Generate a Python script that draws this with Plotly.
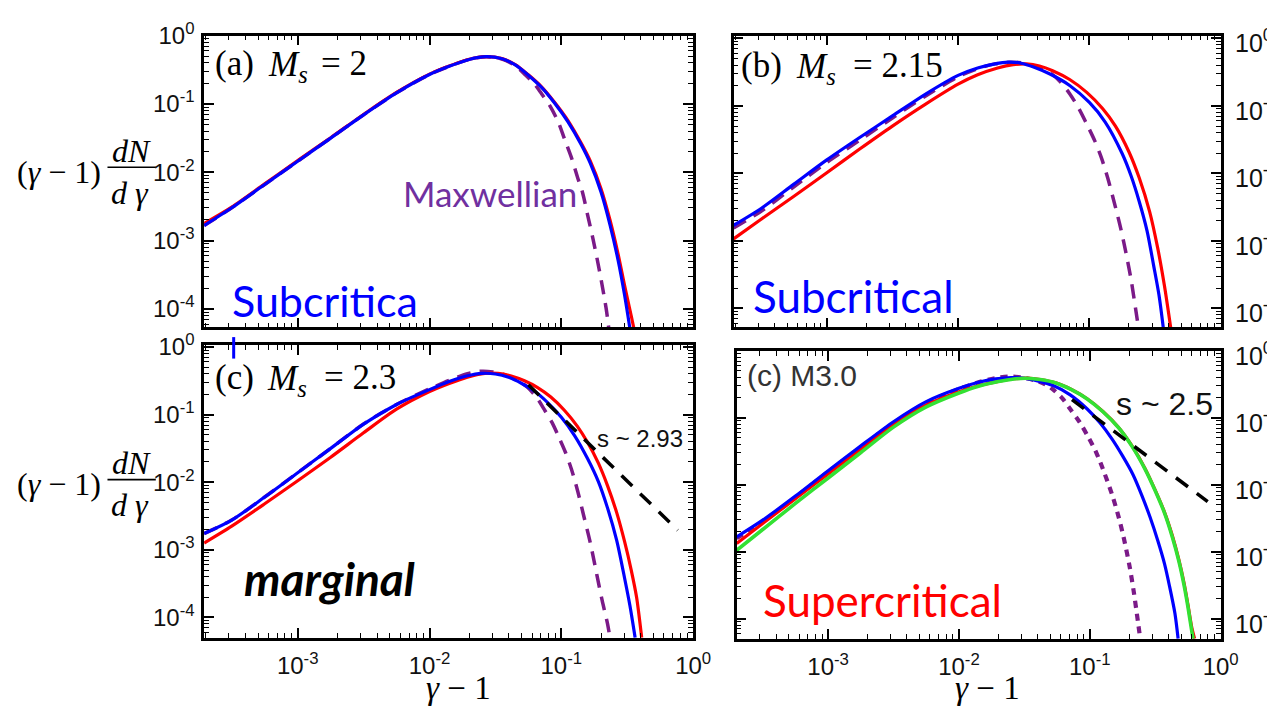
import plotly.graph_objects as go

W, H = 1285, 707

# ---------------- data ----------------
# panel (a) Ms = 2
xa_blue = [1.95e-4, 3.16e-4, 5.62e-4, 1.0e-3, 1.78e-3, 3.16e-3, 5.62e-3, 1.0e-2, 1.41e-2, 2.0e-2,
           2.69e-2, 3.55e-2, 4.47e-2, 5.62e-2, 7.08e-2, 8.91e-2, 0.112, 0.141, 0.166, 0.200,
           0.234, 0.269, 0.302, 0.331]
ya_blue = [1.66e-3, 3.02e-3, 6.61e-3, 1.45e-2, 3.16e-2, 6.92e-2, 0.145, 0.269, 0.355, 0.447,
           0.490, 0.457, 0.372, 0.263, 0.174, 0.102, 0.0550, 0.0257, 0.0135, 5.13e-3,
           1.70e-3, 5.25e-4, 1.58e-4, 5.2e-5]
xa_red = [1.95e-4, 3.16e-4, 5.62e-4, 1.0e-3, 1.78e-3, 3.16e-3, 5.62e-3, 1.0e-2, 1.41e-2, 2.0e-2,
          2.69e-2, 3.55e-2, 4.47e-2, 5.62e-2, 7.08e-2, 8.91e-2, 0.112, 0.141, 0.166, 0.200,
          0.234, 0.269, 0.302, 0.339, 0.355]
ya_red = [1.78e-3, 3.09e-3, 6.76e-3, 1.48e-2, 3.20e-2, 7.0e-2, 0.147, 0.272, 0.358, 0.450,
          0.492, 0.460, 0.376, 0.266, 0.178, 0.105, 0.0575, 0.0269, 0.0145, 5.75e-3,
          2.0e-3, 6.46e-4, 2.19e-4, 7.94e-5, 5.2e-5]
xa_max = [1.95e-4, 3.16e-4, 5.62e-4, 1.0e-3, 1.78e-3, 3.16e-3, 5.62e-3, 1.0e-2, 1.41e-2, 2.0e-2,
          2.69e-2, 3.55e-2, 4.47e-2, 5.37e-2, 6.31e-2, 7.08e-2, 8.32e-2, 9.55e-2, 0.106, 0.120,
          0.133, 0.145, 0.158, 0.174, 0.195, 0.219, 0.229]
ya_max = [1.66e-3, 3.02e-3, 6.61e-3, 1.45e-2, 3.16e-2, 6.92e-2, 0.145, 0.269, 0.355, 0.447,
          0.490, 0.452, 0.363, 0.263, 0.191, 0.141, 0.0891, 0.0525, 0.0302, 0.0158,
          8.32e-3, 5.01e-3, 2.40e-3, 1.05e-3, 3.55e-4, 1.0e-4, 5.2e-5]

# panel (b) Ms = 2.15
xb_blue = [1.95e-4, 3.16e-4, 5.62e-4, 1.0e-3, 1.78e-3, 3.16e-3, 5.62e-3, 1.0e-2, 1.41e-2, 1.91e-2,
           2.40e-2, 3.02e-2, 3.80e-2, 5.01e-2, 7.08e-2, 0.100, 0.132, 0.178, 0.209, 0.240,
           0.275, 0.309, 0.339, 0.366]
yb_blue = [1.70e-3, 3.02e-3, 6.92e-3, 1.58e-2, 3.39e-2, 7.08e-2, 0.148, 0.282, 0.363, 0.417,
           0.442, 0.427, 0.372, 0.295, 0.200, 0.112, 0.0575, 0.0195, 8.91e-3, 3.80e-3,
           1.41e-3, 4.27e-4, 1.58e-4, 5.1e-5]
xb_red = [1.95e-4, 3.16e-4, 5.62e-4, 1.0e-3, 1.78e-3, 3.16e-3, 5.62e-3, 1.0e-2, 1.41e-2, 2.0e-2,
          2.63e-2, 3.31e-2, 4.17e-2, 5.25e-2, 7.08e-2, 9.55e-2, 0.126, 0.158, 0.200, 0.240,
          0.288, 0.331, 0.372, 0.417]
yb_red = [1.07e-3, 2.09e-3, 4.57e-3, 1.02e-2, 2.29e-2, 5.01e-2, 0.105, 0.209, 0.288, 0.363,
          0.407, 0.417, 0.389, 0.331, 0.245, 0.158, 0.0912, 0.0501, 0.0209, 8.51e-3,
          2.69e-3, 7.94e-4, 2.24e-4, 5.1e-5]
xb_max = [1.95e-4, 3.16e-4, 5.62e-4, 1.0e-3, 1.78e-3, 3.16e-3, 5.62e-3, 1.0e-2, 1.41e-2, 1.91e-2,
          2.51e-2, 3.16e-2, 3.98e-2, 5.01e-2, 6.03e-2, 7.08e-2, 8.32e-2, 9.55e-2, 0.110, 0.123,
          0.138, 0.158, 0.174, 0.191, 0.209, 0.226, 0.237]
yb_max = [1.55e-3, 2.75e-3, 6.31e-3, 1.45e-2, 3.09e-2, 6.61e-2, 0.138, 0.269, 0.355, 0.417,
          0.442, 0.427, 0.372, 0.309, 0.224, 0.151, 0.0912, 0.0537, 0.0302, 0.0174,
          8.51e-3, 3.16e-3, 1.48e-3, 6.31e-4, 2.51e-4, 9.3e-5, 5.1e-5]

# panel (c) Ms = 2.3
xc_blue = [1.95e-4, 3.16e-4, 5.62e-4, 1.0e-3, 1.78e-3, 3.16e-3, 5.62e-3, 1.0e-2, 1.41e-2, 1.91e-2,
           2.51e-2, 3.16e-2, 3.98e-2, 5.01e-2, 6.31e-2, 7.94e-2, 0.100, 0.126, 0.158, 0.191,
           0.224, 0.263, 0.302, 0.331, 0.363]
yc_blue = [1.74e-3, 2.75e-3, 6.03e-3, 1.38e-2, 3.16e-2, 7.24e-2, 0.141, 0.234, 0.309, 0.372,
           0.407, 0.398, 0.355, 0.288, 0.219, 0.148, 0.0912, 0.0490, 0.0224, 1.02e-2,
           4.17e-3, 1.38e-3, 3.80e-4, 1.51e-4, 5.0e-5]
xc_red = [1.95e-4, 3.16e-4, 5.62e-4, 1.0e-3, 1.78e-3, 3.16e-3, 5.62e-3, 1.0e-2, 1.41e-2, 1.91e-2,
          2.63e-2, 3.31e-2, 4.17e-2, 5.25e-2, 6.61e-2, 8.32e-2, 0.105, 0.132, 0.158, 0.191,
          0.224, 0.263, 0.302, 0.339, 0.372, 0.407]
yc_red = [1.26e-3, 2.24e-3, 4.79e-3, 1.05e-2, 2.34e-2, 5.37e-2, 0.120, 0.219, 0.288, 0.355,
          0.407, 0.407, 0.372, 0.316, 0.251, 0.182, 0.117, 0.0676, 0.0389, 0.0191,
          8.91e-3, 3.55e-3, 1.32e-3, 5.01e-4, 2.0e-4, 5.0e-5]
xc_max = [1.95e-4, 3.16e-4, 5.62e-4, 1.0e-3, 1.78e-3, 3.16e-3, 5.62e-3, 1.0e-2, 1.41e-2, 1.91e-2,
          2.40e-2, 3.02e-2, 3.80e-2, 4.68e-2, 5.50e-2, 6.46e-2, 7.50e-2, 8.51e-2, 9.55e-2, 0.107,
          0.119, 0.133, 0.148, 0.166, 0.186, 0.204, 0.224, 0.234]
yc_max = [1.74e-3, 2.75e-3, 6.03e-3, 1.38e-2, 3.16e-2, 7.24e-2, 0.141, 0.240, 0.320, 0.398,
          0.437, 0.427, 0.380, 0.316, 0.257, 0.182, 0.115, 0.0759, 0.0468, 0.0282,
          0.0158, 7.41e-3, 3.16e-3, 1.26e-3, 4.27e-4, 1.78e-4, 8.1e-5, 5.0e-5]
xc_pow = [0.0562, 0.764]
yc_pow = [0.275, 1.95e-3]

# panel (d) M3.0
xd_blue = [2.0e-4, 3.16e-4, 5.62e-4, 1.0e-3, 1.78e-3, 3.16e-3, 5.62e-3, 1.0e-2, 1.41e-2, 1.91e-2,
           2.51e-2, 3.16e-2, 3.98e-2, 5.25e-2, 7.08e-2, 9.55e-2, 0.120, 0.148, 0.178, 0.214,
           0.251, 0.288, 0.331, 0.372, 0.407, 0.447, 0.473]
yd_blue = [1.66e-3, 2.95e-3, 6.76e-3, 1.62e-2, 3.80e-2, 8.71e-2, 0.174, 0.275, 0.339, 0.380,
           0.398, 0.389, 0.355, 0.302, 0.219, 0.135, 0.0832, 0.0479, 0.0269, 0.0141,
           6.76e-3, 3.31e-3, 1.45e-3, 6.61e-4, 3.02e-4, 1.20e-4, 5.0e-5]
xd_green = [2.0e-4, 3.16e-4, 5.62e-4, 1.0e-3, 1.78e-3, 3.16e-3, 5.62e-3, 1.0e-2, 1.41e-2, 2.0e-2,
            2.63e-2, 3.31e-2, 4.17e-2, 5.50e-2, 7.24e-2, 9.55e-2, 0.126, 0.166, 0.209, 0.263,
            0.316, 0.372, 0.427, 0.479, 0.525, 0.562, 0.603, 0.617]
yd_green = [1.05e-3, 2.14e-3, 5.25e-3, 1.26e-2, 3.02e-2, 7.24e-2, 0.145, 0.234, 0.295, 0.347,
            0.380, 0.389, 0.372, 0.331, 0.263, 0.191, 0.123, 0.0708, 0.0380, 0.0174,
            8.13e-3, 3.80e-3, 1.66e-3, 7.24e-4, 3.16e-4, 1.51e-4, 6.31e-5, 5.0e-5]
xd_red = [2.0e-4, 3.16e-4, 5.62e-4, 1.0e-3, 1.78e-3, 3.16e-3, 5.62e-3, 1.0e-2, 1.41e-2, 2.0e-2,
          2.63e-2, 3.31e-2, 4.17e-2, 5.50e-2, 7.24e-2, 9.55e-2, 0.126, 0.166, 0.209, 0.263,
          0.316, 0.372, 0.427, 0.479, 0.525, 0.562, 0.603, 0.632]
yd_red = [1.32e-3, 2.63e-3, 6.17e-3, 1.45e-2, 3.39e-2, 7.94e-2, 0.155, 0.245, 0.300, 0.350,
          0.382, 0.390, 0.373, 0.332, 0.264, 0.192, 0.124, 0.0715, 0.0385, 0.0178,
          8.3e-3, 3.9e-3, 1.74e-3, 7.6e-4, 3.4e-4, 1.62e-4, 7.2e-5, 5.0e-5]
xd_max = [2.0e-4, 3.16e-4, 5.62e-4, 1.0e-3, 1.78e-3, 3.16e-3, 5.62e-3, 1.0e-2, 1.41e-2, 1.91e-2,
          2.40e-2, 3.02e-2, 3.80e-2, 4.57e-2, 5.25e-2, 6.17e-2, 7.08e-2, 8.32e-2, 9.55e-2, 0.112,
          0.130, 0.148, 0.166, 0.182, 0.200, 0.216, 0.233, 0.243]
yd_max = [1.58e-3, 2.82e-3, 6.46e-3, 1.55e-2, 3.63e-2, 8.32e-2, 0.166, 0.269, 0.339, 0.389,
          0.412, 0.398, 0.363, 0.316, 0.263, 0.195, 0.135, 0.0871, 0.0550, 0.0302,
          0.0145, 7.08e-3, 3.31e-3, 1.58e-3, 6.46e-4, 2.63e-4, 9.1e-5, 5.0e-5]
xd_pow = [0.0731, 0.796]
yd_pow = [0.186, 5.6e-3]

y_tickvals = [1, 1e-1, 1e-2, 1e-3, 1e-4]
y_ticktext = ["10<sup>0</sup>", "10<sup>-1</sup>", "10<sup>-2</sup>", "10<sup>-3</sup>", "10<sup>-4</sup>"]
y_tickexp = [0, -1, -2, -3, -4]
x_tickvals = [1e-3, 1e-2, 1e-1, 1]
x_ticktext = ["10<sup>-3</sup>", "10<sup>-2</sup>", "10<sup>-1</sup>", "10<sup>0</sup>"]

# ---------------- styling ----------------
BLUE = "#0000FF"
RED = "#FF0000"
GREEN = "#33E133"
PURPLE = "#7B1A88"


def px(x):
    return x / W


def py(y):
    return 1 - y / H


fig = go.Figure()


def line(x, y, color, ax, width=3.2, dash="solid"):
    fig.add_trace(go.Scatter(x=x, y=y, mode="lines", xaxis="x" + ax, yaxis="y" + ax,
                             line=dict(color=color, width=width, dash=dash, shape="spline", smoothing=0.8),
                             showlegend=False, hoverinfo="skip"))


MAXDASH = "14px,9px"
# (a)
line(xa_max, ya_max, PURPLE, "", 3.5, MAXDASH)
line(xa_red, ya_red, RED, "")
line(xa_blue, ya_blue, BLUE, "")
# (b)
line(xb_max, yb_max, PURPLE, "2", 3.5, MAXDASH)
line(xb_red, yb_red, RED, "2")
line(xb_blue, yb_blue, BLUE, "2")
# (c)
line(xc_max, yc_max, PURPLE, "3", 3.5, MAXDASH)
line(xc_red, yc_red, RED, "3")
line(xc_blue, yc_blue, BLUE, "3")
fig.add_trace(go.Scatter(x=xc_pow, y=yc_pow, mode="lines", xaxis="x3", yaxis="y3",
                         line=dict(color="black", width=3.5, dash="15px,11px"),
                         showlegend=False, hoverinfo="skip"))
# (d)
line(xd_max, yd_max, PURPLE, "4", 4.2, "7px,6px")
line(xd_red, yd_red, RED, "4")
line(xd_blue, yd_blue, BLUE, "4")
line(xd_green, yd_green, GREEN, "4", 3.6)
fig.add_trace(go.Scatter(x=xd_pow, y=yd_pow, mode="lines", xaxis="x4", yaxis="y4",
                         line=dict(color="black", width=3.5, dash="15px,11px"),
                         showlegend=False, hoverinfo="skip"))

TICKFONT = dict(family="Liberation Sans, Arial, sans-serif", size=24, color="#111")
MINOR = dict(ticks="inside", ticklen=5, tickwidth=1.3, tickcolor="black", dtick="D1", showgrid=False)


def xaxis(dom, rng, labels, anchor):
    return dict(type="log", domain=dom, range=rng, anchor=anchor, showline=True, linecolor="black",
                linewidth=2.5, mirror="allticks", ticks="inside", ticklen=10, tickwidth=1.6,
                tickcolor="black", tickmode="array", tickvals=x_tickvals, ticktext=x_ticktext,
                showticklabels=labels, showgrid=False, zeroline=False, minor=MINOR,
                tickfont=TICKFONT, ticklabelstandoff=5)


def yaxis(dom, rng, side, anchor, labels):
    return dict(type="log", domain=dom, range=rng, anchor=anchor, side=side, showline=True,
                linecolor="black", linewidth=2.5, mirror="allticks", ticks="inside", ticklen=10,
                tickwidth=1.6, tickcolor="black", tickmode="array", tickvals=y_tickvals,
                ticktext=y_ticktext, showgrid=False, zeroline=False, minor=MINOR,
                showticklabels=labels, tickfont=TICKFONT, ticklabelstandoff=2)


xa_dom = [px(207), px(703)]
xb_dom = [px(744), px(1238)]
xd_dom = [px(747), px(1238)]
ytop = [py(318), py(19)]
yc_dom = [py(636), py(336)]
yd_dom = [py(637), py(342)]

fig.update_layout(
    width=W, height=H, margin=dict(l=0, r=0, t=0, b=0),
    paper_bgcolor="white", plot_bgcolor="white", showlegend=False,
    xaxis=xaxis(xa_dom, [-3.71, 0.0], False, "y"),
    yaxis=yaxis(ytop, [-4.27, 0.0], "left", "x", True),
    xaxis2=xaxis(xb_dom, [-3.71, 0.0], False, "y2"),
    yaxis2=yaxis(ytop, [-4.28, 0.04], "right", "x2", False),
    xaxis3=xaxis(xa_dom, [-3.71, 0.0], True, "y3"),
    yaxis3=yaxis(yc_dom, [-4.3, 0.03], "left", "x3", True),
    xaxis4=xaxis(xd_dom, [-3.70, 0.0], True, "y4"),
    yaxis4=yaxis(yd_dom, [-4.3, 0.0], "right", "x4", False),
)

ann = []
SERIF = "Liberation Serif, Times New Roman, serif"
SANS = "Lato, Open Sans, sans-serif"
ARIAL = "Liberation Sans, Arial, sans-serif"


def text(x, y, s, size, color="black", family=SERIF, xanchor="left", yanchor="middle"):
    ann.append(dict(x=px(x), y=py(y), xref="paper", yref="paper", text=s, showarrow=False,
                    xanchor=xanchor, yanchor=yanchor, font=dict(family=family, size=size, color=color)))


# right-hand tick labels of the right panels: clipped by a fixed-width box at the picture edge,
# as they are cut by the edge of the original picture
for yref in ("y2", "y4"):
    for e, t in zip(y_tickexp, y_ticktext):
        ann.append(dict(x=px(1252), y=e, xref="paper", yref=yref, text=t, showarrow=False,
                        xanchor="left", yanchor="middle", yshift=-3, width=32, align="left",
                        borderpad=0, font=dict(family=ARIAL, size=25, color="#111")))

# y axis labels (fraction)
for yc in (158, 478):
    text(15, yc + 1, "(<i>γ</i> − 1)", 32)
    text(133, yc - 21, "<i>dN</i>", 32, xanchor="center")
    text(132, yc + 22, "<i>d γ</i>", 32, xanchor="center")
    fig.add_shape(type="line", xref="paper", yref="paper", x0=px(109), x1=px(158),
                  y0=py(yc - 4), y1=py(yc - 4), line=dict(color="black", width=1.6))

# x axis labels
text(465, 688, "<i>γ</i> − 1", 33, xanchor="center")
text(1002, 688, "<i>γ</i> − 1", 33, xanchor="center")

# panel titles
text(216, 48, "(a)", 35)
text(270, 51, "<i>M</i><sub><i>s</i></sub>", 35)
text(324, 48, "= 2", 35)
text(750, 50, "(b)", 35)
text(805, 53, "<i>M</i><sub><i>s</i></sub>", 35)
text(863, 50, "= 2.15", 35)
text(216, 369, "(c)", 35)
text(269, 372, "<i>M</i><sub><i>s</i></sub>", 35)
text(327, 369, "= 2.3", 35)
text(756, 367, "(c) M3.0", 30, color="#333", family=ARIAL)

# annotations inside panels
text(497, 180, "Maxwellian", 35, color="#7030A0", family=SANS, xanchor="center")
text(233, 290, "Subcritica", 43, color=BLUE, family=SANS)
text(762, 286, "Subcritical", 44, color=BLUE, family=SANS)
text(245, 575, "<b><i>marginal</i></b>", 46, color="black", family=SANS)
text(772, 597, "Supercritical", 44, color=RED, family=SANS)
text(603, 432, "s ~ 2.93", 24, color="#111", family=ARIAL)
text(1130, 397, "s ~ 2.5", 32, color="#111", family=ARIAL)

fig.update_layout(annotations=ann)

# small blue stroke remnant above panel (c)
fig.add_shape(type="line", xref="paper", yref="paper", x0=px(237), x1=px(237), y0=py(328), y1=py(350),
              line=dict(color=BLUE, width=3))

fig.write_html("out.html")
